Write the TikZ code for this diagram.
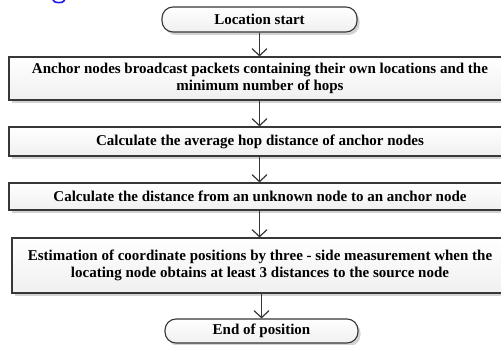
\documentclass[tikz,border=0pt]{standalone}
\usepackage{fontspec}
\setmainfont{Liberation Serif}
\usetikzlibrary{arrows.meta, positioning, shadows}
\definecolor{linecol}{RGB}{55,55,55}
\definecolor{shadowcol}{RGB}{210,210,210}
\definecolor{headblue}{RGB}{25,25,235}

\begin{document}
\begin{tikzpicture}[
    x=1pt, y=-1pt,
    arr/.style={-{Straight Barb[length=7pt, width=15pt]}, line width=1.2pt, draw=linecol},
    procbox/.style={draw=linecol, line width=1.1pt, top color=white, bottom color=black!6,
                    drop shadow={shadow xshift=2.5pt, shadow yshift=-3pt, fill=shadowcol, opacity=1},
                    font=\fontsize{15}{17}\selectfont\bfseries, align=center, inner sep=0pt},
    termbox/.style={procbox, rounded corners=11pt},
]

\path[use as bounding box] (0,0) rectangle (501,345);

% ════════════════════════════════════════════════════════
% 0. HEADING REMNANT (cut off at the top)
% ════════════════════════════════════════════════════════
\draw[headblue, line width=1.6pt, line cap=round]
    (53,0) .. controls (54,3.5) and (63,3.5) .. (64.5,0.5);

% ════════════════════════════════════════════════════════
% 1. TERMINALS AND STEPS
% ════════════════════════════════════════════════════════
\node[termbox, minimum width=195, minimum height=25] (start) at (259.5, 19.5)
    {Location start};

\node[procbox, minimum width=502, minimum height=43] (broadcast) at (260, 78.5)
    {Anchor nodes broadcast packets containing their own locations and the\\
     minimum number of hops};

\node[procbox, minimum width=502, minimum height=29] (avghop) at (260, 141.5)
    {Calculate the average hop distance of anchor nodes};

\node[procbox, minimum width=502, minimum height=27] (dist) at (260, 196.5)
    {Calculate the distance from an unknown node to an anchor node};

\node[procbox, minimum width=496, minimum height=55] (estim) at (260, 265.5)
    {\makebox[0pt]{Estimation of coordinate positions by three - side measurement when the}\\
     locating node obtains at least 3 distances to the source node};

\node[termbox, minimum width=193, minimum height=24] (finish) at (261.5, 331)
    {End of position};

% ════════════════════════════════════════════════════════
% 2. CONNECTORS
% ════════════════════════════════════════════════════════
\draw[arr] (start.south) -- (start.south |- broadcast.north);
\draw[arr] (start.south |- broadcast.south) -- (start.south |- avghop.north);
\draw[arr] (start.south |- avghop.south) -- (start.south |- dist.north);
\draw[arr] (start.south |- dist.south) -- (start.south |- estim.north);
\draw[arr] (finish.north |- estim.south) -- (finish.north);

\end{tikzpicture}
\end{document}
